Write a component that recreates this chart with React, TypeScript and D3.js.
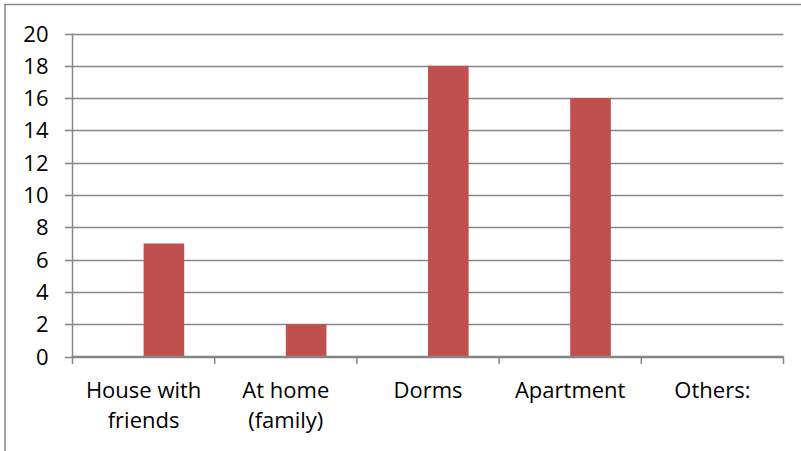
import React from "react";
import * as d3 from "d3";

const categories: string[][] = [
  ["House with", "friends"],
  ["At home", "(family)"],
  ["Dorms"],
  ["Apartment"],
  ["Others:"],
];
const values: number[] = [7, 2, 18, 16, 0];
const seriesSlots: string[] = ["blank", "count"];
const yTicks: number[] = [0, 2, 4, 6, 8, 10, 12, 14, 16, 18, 20];

const W = 801;
const H = 451;
const left = 72.5;
const right = 783.5;
const top = 33.5;
const bottom = 356.5;
const FONT = "'Open Sans', Lato, sans-serif";
const FS = 22;
const GRID = "#868686";

export default function App() {
  const keys = categories.map((_, i) => String(i));
  const x = d3.scaleBand<string>().domain(keys).range([left, right]).padding(0);
  const cw = x.bandwidth();
  const bw = cw / 3.5;
  const inner = d3
    .scaleBand<string>()
    .domain(seriesSlots)
    .range([0.75 * bw, cw - 0.75 * bw])
    .padding(0);
  const y = d3.scaleLinear().domain([0, 20]).range([bottom, top]);

  return (
    <svg
      width={W}
      height={H}
      style={{ position: "absolute", left: 0, top: 0, background: "#fff" }}
      fontFamily={FONT}
    >
      <rect x={0} y={0} width={W} height={H} fill="#fff" />
      {/* outer frame */}
      <path d={`M5,${H + 2} V4.5 H${W + 2}`} fill="none" stroke="#888" strokeWidth={1.5} />
      {/* gridlines */}
      {yTicks.map((t) => (
        <line
          key={"g" + t}
          x1={left - 7.5}
          x2={right}
          y1={Math.round(y(t)) + 0.5}
          y2={Math.round(y(t)) + 0.5}
          stroke={GRID}
          strokeWidth={1.5}
        />
      ))}
      {/* bars */}
      {values.map((v, i) =>
        v > 0 ? (
          <rect
            key={"b" + i}
            x={(x(String(i)) as number) + (inner("count") as number)}
            y={y(v)}
            width={inner.bandwidth()}
            height={y(0) - y(v)}
            fill="#C0504D"
          />
        ) : null
      )}
      {/* y axis */}
      <line x1={left} x2={left} y1={top} y2={bottom + 1} stroke={GRID} strokeWidth={1.5} />
      {/* x axis */}
      <line x1={left} x2={right} y1={bottom} y2={bottom} stroke={GRID} strokeWidth={1.5} />
      {keys.concat(["end"]).map((k, i) => {
        const xx = i < keys.length ? (x(k) as number) : right;
        return (
          <line key={"xt" + i} x1={xx} x2={xx} y1={bottom} y2={bottom + 7.5} stroke={GRID} strokeWidth={1.5} />
        );
      })}
      {/* y tick labels */}
      {yTicks.map((t) => (
        <text
          key={"yl" + t}
          x={48.5}
          y={y(t) + 8}
          textAnchor="end"
          fontSize={FS}
          fill="#000"
        >
          {t}
        </text>
      ))}
      {/* x labels */}
      {categories.map((lines, i) => (
        <text
          key={"xl" + i}
          x={(x(String(i)) as number) + cw / 2}
          textAnchor="middle"
          fontSize={FS}
          fill="#000"
        >
          {lines.map((ln, j) => (
            <tspan key={j} x={(x(String(i)) as number) + cw / 2} y={398 + j * 30}>
              {ln}
            </tspan>
          ))}
        </text>
      ))}
    </svg>
  );
}
